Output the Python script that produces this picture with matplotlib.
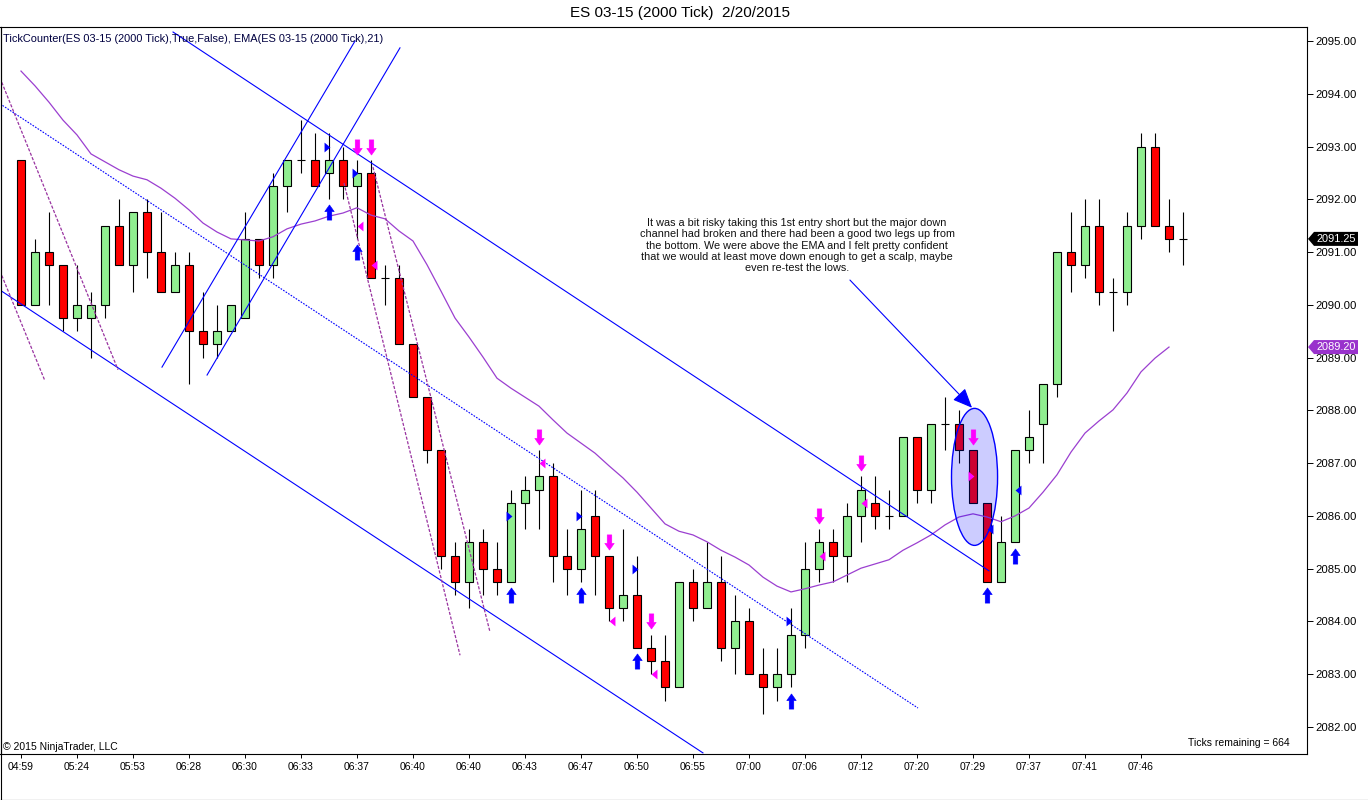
import matplotlib
matplotlib.use("Agg")
import matplotlib.pyplot as plt
import numpy as np
from matplotlib.patches import Ellipse, Polygon
from matplotlib.lines import Line2D
from matplotlib.ticker import FormatStrFormatter
from matplotlib.transforms import blended_transform_factory

plt.rcParams['font.family'] = ['Liberation Sans', 'DejaVu Sans']

# ES 03-15 2000 tick bars, 2/20/2015
opens = [2092.75, 2090.00, 2091.00, 2090.75, 2089.75, 2089.75, 2090.00, 2091.50, 2090.75, 2091.75,
         2091.00, 2090.25, 2090.75, 2089.50, 2089.25, 2089.50, 2089.75, 2091.25, 2090.75, 2092.25,
         2092.75, 2092.75, 2092.50, 2092.75, 2092.25, 2092.50, 2090.50, 2090.50, 2089.25, 2088.25,
         2087.25, 2085.25, 2084.75, 2085.50, 2085.00, 2084.75, 2086.25, 2086.50, 2086.75, 2085.25,
         2085.00, 2086.00, 2085.25, 2084.25, 2084.50, 2083.50, 2083.25, 2082.75, 2084.75, 2084.25,
         2084.75, 2083.50, 2084.00, 2083.00, 2082.75, 2083.00, 2083.75, 2085.00, 2085.50, 2085.25,
         2086.00, 2086.25, 2086.00, 2086.00, 2087.50, 2086.50, 2087.75, 2087.75, 2087.25, 2086.25,
         2084.75, 2085.50, 2087.25, 2087.75, 2088.50, 2091.00, 2090.75, 2091.50, 2090.25, 2090.25,
         2091.50, 2093.00, 2091.50, 2091.25]
highs = [2092.75, 2091.25, 2091.75, 2090.75, 2090.75, 2090.25, 2091.50, 2092.00, 2091.75, 2092.00,
         2091.75, 2091.00, 2091.00, 2090.25, 2090.00, 2090.00, 2091.75, 2091.25, 2092.50, 2092.75,
         2093.50, 2093.25, 2093.25, 2093.00, 2092.75, 2092.75, 2090.75, 2090.75, 2089.25, 2088.25,
         2087.25, 2085.50, 2085.75, 2085.75, 2085.50, 2086.50, 2086.75, 2087.25, 2087.00, 2085.75,
         2086.50, 2086.50, 2085.25, 2085.75, 2085.25, 2083.75, 2083.75, 2084.75, 2085.00, 2085.50,
         2085.25, 2084.50, 2084.25, 2083.50, 2083.50, 2084.25, 2085.50, 2085.75, 2085.75, 2086.25,
         2086.75, 2086.75, 2086.50, 2087.50, 2087.50, 2087.75, 2088.25, 2088.00, 2087.25, 2086.25,
         2086.00, 2087.25, 2088.00, 2088.50, 2091.00, 2091.75, 2092.00, 2092.00, 2090.50, 2091.75,
         2093.25, 2093.25, 2092.00, 2091.75]
lows = [2090.00, 2090.00, 2090.00, 2089.50, 2089.50, 2089.00, 2089.75, 2090.75, 2090.25, 2090.50,
        2090.25, 2090.25, 2088.50, 2089.00, 2089.00, 2089.50, 2089.75, 2090.50, 2090.50, 2091.75,
        2092.50, 2092.25, 2092.00, 2092.00, 2091.25, 2090.50, 2090.00, 2089.25, 2088.25, 2087.00,
        2085.00, 2084.50, 2084.25, 2084.50, 2084.50, 2084.75, 2085.75, 2085.75, 2084.75, 2084.50,
        2084.75, 2084.50, 2084.00, 2084.00, 2083.50, 2083.00, 2082.50, 2082.75, 2084.00, 2084.25,
        2083.25, 2083.00, 2083.00, 2082.25, 2082.50, 2082.75, 2083.50, 2084.75, 2084.75, 2084.75,
        2085.50, 2085.75, 2085.75, 2086.00, 2086.25, 2086.25, 2087.25, 2087.00, 2086.25, 2084.75,
        2084.75, 2085.50, 2087.00, 2087.00, 2088.25, 2090.25, 2090.50, 2090.00, 2089.50, 2090.00,
        2091.25, 2091.50, 2091.00, 2090.75]
closes = [2090.00, 2091.00, 2090.75, 2089.75, 2090.00, 2090.00, 2091.50, 2090.75, 2091.75, 2091.00,
          2090.25, 2090.75, 2089.50, 2089.25, 2089.50, 2090.00, 2091.25, 2090.75, 2092.25, 2092.75,
          2092.75, 2092.25, 2092.75, 2092.25, 2092.50, 2090.50, 2090.50, 2089.25, 2088.25, 2087.25,
          2085.25, 2084.75, 2085.50, 2085.00, 2084.75, 2086.25, 2086.50, 2086.75, 2085.25, 2085.00,
          2085.75, 2085.25, 2084.25, 2084.50, 2083.50, 2083.25, 2082.75, 2084.75, 2084.25, 2084.75,
          2083.50, 2084.00, 2083.00, 2082.75, 2083.00, 2083.75, 2085.00, 2085.50, 2085.25, 2086.00,
          2086.50, 2086.00, 2086.00, 2087.50, 2086.50, 2087.75, 2087.75, 2087.25, 2086.25, 2084.75,
          2085.50, 2087.25, 2087.50, 2088.50, 2091.00, 2090.75, 2091.50, 2090.25, 2090.25, 2091.50,
          2093.00, 2091.50, 2091.25, 2091.25]

# EMA(21), closed bars only
ema21 = [2094.43, 2094.15, 2093.84, 2093.50, 2093.22, 2092.86, 2092.71, 2092.56, 2092.44, 2092.37,
         2092.21, 2092.02, 2091.80, 2091.55, 2091.38, 2091.25, 2091.23, 2091.21, 2091.29, 2091.44,
         2091.53, 2091.59, 2091.68, 2091.74, 2091.84, 2091.70, 2091.63, 2091.40, 2091.21, 2090.76,
         2090.26, 2089.75, 2089.39, 2089.01, 2088.61, 2088.42, 2088.25, 2088.08, 2087.82, 2087.57,
         2087.38, 2087.19, 2086.95, 2086.72, 2086.45, 2086.15, 2085.85, 2085.71, 2085.64, 2085.51,
         2085.35, 2085.22, 2085.07, 2084.84, 2084.67, 2084.56, 2084.62, 2084.69, 2084.75, 2084.88,
         2085.01, 2085.09, 2085.17, 2085.35, 2085.49, 2085.64, 2085.83, 2085.98, 2086.04, 2085.98,
         2085.89, 2086.00, 2086.15, 2086.45, 2086.78, 2087.21, 2087.57, 2087.80, 2088.01, 2088.33,
         2088.73, 2088.99, 2089.20]

time_labels = ['04:59', '05:24', '05:53', '06:28', '06:30', '06:33', '06:37', '06:40', '06:40',
               '06:43', '06:47', '06:50', '06:55', '07:00', '07:06', '07:12', '07:20', '07:29',
               '07:37', '07:41', '07:46']

# signal markers (bar numbers / prices)
long_arrow_bars = [23, 25, 36, 41, 45, 56, 70, 72]
short_arrow_bars = [25, 26, 38, 43, 46, 58, 61, 69]
blue_tri_r_bars = [23, 25, 36, 41, 45, 56]
blue_tri_r_prices = [2093.0, 2092.5, 2086.0, 2086.0, 2085.0, 2084.0]
blue_tri_l_bars = [70, 72]
blue_tri_l_prices = [2085.75, 2086.5]
pink_tri_l_bars = [25, 26, 38, 43, 46, 58, 61]
pink_tri_l_prices = [2091.5, 2090.75, 2087.0, 2084.0, 2083.0, 2085.25, 2086.25]
pink_tri_r_bars = [69]
pink_tri_r_prices = [2086.75]

# drawn objects: (bar, price) endpoints
blue_lines = [((-0.5, 2090.28), (49.71, 2081.51)),
              ((11.86, 2095.17), (70.14, 2084.96)),
              ((11.07, 2088.82), (24.86, 2095.0)),
              ((14.29, 2088.67), (28.07, 2094.87))]
blue_dotted = [((-0.5, 2093.81), (65.07, 2082.36))]
purple_dashed = [((-0.5, 2090.64), (2.71, 2088.56)),
                 ((-0.5, 2094.30), (7.93, 2088.77)),
                 ((24.07, 2092.31), (32.36, 2083.36)),
                 ((26.14, 2092.61), (34.50, 2083.80))]

note = ("It was a bit risky taking this 1st entry short but the major down\n"
        "channel had broken and there had been a good two legs up from\n"
        "the bottom. We were above the EMA and I felt pretty confident\n"
        "that we would at least move down enough to get a scalp, maybe\n"
        "even re-test the lows.")

W, H = 1368, 800
fig = plt.figure(figsize=(W / 100, H / 100), dpi=100)
ax = fig.add_axes([0.5 / W, 46 / H, 1306.5 / W, 727 / H])
ax.set_xlim(-0.464, 92.857)
ax.set_ylim(2081.489, 2095.265)

x = np.arange(1, len(opens) + 1)
o = np.array(opens); c = np.array(closes)
hi = np.array(highs); lo = np.array(lows)
body_lo = np.minimum(o, c)
body_h = np.abs(c - o)
cols = np.where(c > o, '#90EE90', '#FF0000')
m = body_h > 0

ax.vlines(x, lo, hi, color='black', lw=0.8, zorder=2)
ax.bar(x[m], body_h[m], bottom=body_lo[m], width=0.6, color=cols[m],
       edgecolor='black', linewidth=0.8, zorder=3)
ax.hlines(o[~m], x[~m] - 0.3, x[~m] + 0.3, color='black', lw=0.8, zorder=3)

ax.plot(x[:len(ema21)], ema21, color='#9B3FD0', lw=0.9, zorder=4)

for (p0, p1) in blue_lines:
    ax.plot([p0[0], p1[0]], [p0[1], p1[1]], color='#0000FF', lw=0.8, zorder=4)
for (p0, p1) in blue_dotted:
    ax.plot([p0[0], p1[0]], [p0[1], p1[1]], color='#0000FF', lw=0.8,
            ls=(0, (1.5, 1.2)), zorder=4)
for (p0, p1) in purple_dashed:
    ax.plot([p0[0], p1[0]], [p0[1], p1[1]], color='#9933A0', lw=0.9,
            ls=(0, (2.5, 1.3)), zorder=4)

ax.add_patch(Ellipse((69.11, 2086.74), 3.29, 2.596, facecolor=(0, 0, 1, 0.2),
                     edgecolor='#0000FF', lw=1.0, zorder=5))

ax.annotate('', xy=(68.93, 2088.05), xytext=(60.21, 2090.47),
            arrowprops=dict(arrowstyle='-|>,head_length=0.6,head_width=0.26',
                            color='#0000FF', lw=0.8, mutation_scale=20,
                            shrinkA=0, shrinkB=0), zorder=6)
ax.text(56.43, 2091.12, note, ha='center', va='center', fontsize=7.8,
        linespacing=1.16, color='#111111', zorder=6)

up_arrow = [(0, 1), (0.62, 0.12), (0.3, 0.12), (0.3, -1), (-0.3, -1),
            (-0.3, 0.12), (-0.62, 0.12), (0, 1)]
down_arrow = [(px, -py) for px, py in up_arrow]
tri_r = [(0.6, 0), (-0.6, 1), (-0.6, -1), (0.6, 0)]
tri_l = [(-px, py) for px, py in tri_r]

lb = np.array(long_arrow_bars)
ax.scatter(lb, lo[lb - 1] - 0.25, marker=up_arrow, s=120, color='#0000FF',
           edgecolors='#0000FF', linewidths=0.4, zorder=7)
sb = np.array(short_arrow_bars)
ax.scatter(sb, hi[sb - 1] + 0.25, marker=down_arrow, s=120, color='#FF00FF',
           edgecolors='#FF00FF', linewidths=0.4, zorder=7)
ax.scatter(np.array(blue_tri_r_bars) - 0.13, blue_tri_r_prices, marker=tri_r, s=50,
           color='#0000FF', linewidths=0, zorder=7)
ax.scatter(np.array(blue_tri_l_bars) + 0.22, blue_tri_l_prices, marker=tri_l, s=50,
           color='#0000FF', linewidths=0, zorder=7)
ax.scatter(np.array(pink_tri_l_bars) + 0.22, pink_tri_l_prices, marker=tri_l, s=50,
           color='#FF00FF', linewidths=0, zorder=7)
ax.scatter(np.array(pink_tri_r_bars) - 0.15, pink_tri_r_prices, marker=tri_r, s=50,
           color='#FF00FF', linewidths=0, zorder=7)

# axes
ax.yaxis.tick_right()
ax.set_yticks(np.arange(2082, 2096))
ax.yaxis.set_major_formatter(FormatStrFormatter('%.2f'))
ax.tick_params(axis='y', direction='out', length=4.3, width=0.7, labelsize=8.2,
               pad=2, colors='black')
ax.set_xticks(x[::4])
ax.set_xticklabels(time_labels)
ax.tick_params(axis='x', direction='out', length=3, width=0.7, labelsize=7.5, pad=2.5)
for s in ax.spines.values():
    s.set_linewidth(0.8)

# price markers on the axis
tr = blended_transform_factory(fig.transFigure, ax.transData)
hh = 7 / 52.77
for val, fc in [(closes[-1], 'black'), (ema21[-1], '#9932CC')]:
    poly = [(1308 / W, val), (1314 / W, val + hh), (1358 / W, val + hh),
            (1358 / W, val - hh), (1314 / W, val - hh)]
    ax.add_patch(Polygon(poly, closed=True, facecolor=fc, edgecolor='none',
                         transform=tr, clip_on=False, zorder=8))
    ax.text(1336.5 / W, val, f'{val:.2f}', transform=tr, ha='center', va='center',
            color='white', fontsize=7.9, clip_on=False, zorder=9)

fig.text(680 / W, 1 - 13 / H, 'ES 03-15 (2000 Tick)  2/20/2015', ha='center',
         va='center', fontsize=11)
fig.text(3 / W, 1 - 39 / H,
         'TickCounter(ES 03-15 (2000 Tick),True,False), EMA(ES 03-15 (2000 Tick),21)',
         ha='left', va='center', fontsize=7.9, color='#000040')
fig.text(3 / W, 1 - 747 / H, '\u00a9 2015 NinjaTrader, LLC', ha='left', va='center',
         fontsize=7.5)
fig.text(1290 / W, 1 - 743 / H, 'Ticks remaining = 664', ha='right', va='center',
         fontsize=7.5)

fig.add_artist(Line2D([0.5 / W, 0.5 / W], [0, 1 - 27 / H], color='black', lw=0.8))
fig.add_artist(Line2D([0, 1], [0.5 / H, 0.5 / H], color='black', lw=0.8))

fig.savefig('out.png', dpi=100)
